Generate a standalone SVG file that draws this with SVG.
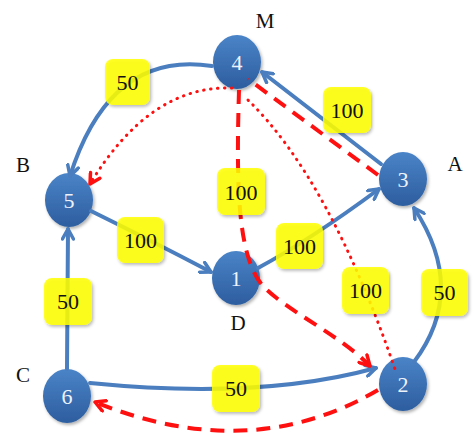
<svg xmlns="http://www.w3.org/2000/svg" width="474" height="433" viewBox="0 0 474 433">
<style>
.node{fill:url(#ng);filter:url(#sh)}
.ntxt{font-family:"Liberation Serif",serif;font-size:22px;fill:#eef3fb;text-anchor:middle}
.lbl{font-family:"Liberation Serif",serif;font-size:21px;fill:#111;text-anchor:middle}
.box{fill:#ffff00;fill-opacity:0.85;filter:url(#sh)}
.btxt{font-family:"Liberation Serif",serif;font-size:22px;fill:#111;text-anchor:middle}
.blue{fill:none;stroke:#4a7ebf;stroke-width:4;stroke-linecap:round}
.dash{fill:none;stroke:#ff1010;stroke-width:4;stroke-dasharray:14 9}
.dot{fill:none;stroke:#ff1010;stroke-width:3;stroke-dasharray:0.5 6.5;stroke-linecap:round}
</style>
<defs>
<linearGradient id="ng" x1="0" y1="0" x2="0" y2="1">
<stop offset="0" stop-color="#4a84c8"/>
<stop offset="1" stop-color="#2d5d9f"/>
</linearGradient>
<filter id="sh" x="-20%" y="-20%" width="150%" height="150%">
<feDropShadow dx="1.5" dy="2" stdDeviation="1.5" flood-color="#000" flood-opacity="0.3"/>
</filter>
<marker id="ab" viewBox="0 0 14 14" refX="12" refY="7" markerWidth="14" markerHeight="14" markerUnits="userSpaceOnUse" orient="auto">
<path d="M2,1.5 L12,7 L2,12.5" fill="none" stroke="#4a7ebf" stroke-width="3.5" stroke-linecap="round" stroke-linejoin="round"/>
</marker>
<marker id="ar" viewBox="0 0 14 14" refX="12" refY="7" markerWidth="14" markerHeight="14" markerUnits="userSpaceOnUse" orient="auto">
<path d="M2,1.5 L12,7 L2,12.5" fill="none" stroke="#ff1010" stroke-width="3.5" stroke-linecap="round" stroke-linejoin="round"/>
</marker>
</defs>
<rect width="474" height="433" fill="#fff"/>
<g id="node-4"><ellipse class="node" cx="237" cy="62" rx="24" ry="27"/><text class="ntxt" x="237" y="70">4</text><text class="lbl" x="265" y="28">M</text></g>
<g id="node-5"><ellipse class="node" cx="69" cy="200" rx="24" ry="27"/><text class="ntxt" x="69" y="208">5</text><text class="lbl" x="23" y="172">B</text></g>
<g id="node-3"><ellipse class="node" cx="403" cy="179" rx="24" ry="27"/><text class="ntxt" x="403" y="187">3</text><text class="lbl" x="455" y="171">A</text></g>
<g id="node-1"><ellipse class="node" cx="236" cy="278" rx="24" ry="27"/><text class="ntxt" x="236" y="286">1</text><text class="lbl" x="238" y="330">D</text></g>
<g id="node-2"><ellipse class="node" cx="403" cy="384" rx="24" ry="27"/><text class="ntxt" x="403" y="392">2</text></g>
<g id="node-6"><ellipse class="node" cx="67" cy="396" rx="24" ry="27"/><text class="ntxt" x="67" y="404">6</text><text class="lbl" x="23" y="382">C</text></g>
<g id="connectors">
<path class="blue" d="M212 66 Q110 50 70 176" marker-end="url(#ab)"/>
<path class="blue" d="M381 164 L262 72" marker-end="url(#ab)"/>
<path class="blue" d="M91 211 Q150 240 211 272" marker-end="url(#ab)"/>
<path class="blue" d="M258 268 Q310 240 379 189" marker-end="url(#ab)"/>
<path class="blue" d="M67 369 L68 229" marker-end="url(#ab)"/>
<path class="blue" d="M90 383 Q260 400 376 368" marker-end="url(#ab)"/>
<path class="blue" d="M414 362 Q468 290 414 208" marker-end="url(#ab)"/>
<path class="dash" d="M378 175 L248 79"/>
<path class="dash" d="M239 90 C236 190 238 255 262 285 C285 310 340 335 370 366" marker-end="url(#ar)"/>
<path class="dash" d="M378 390 Q250 465 95 402" marker-end="url(#ar)"/>
<path class="dot" d="M232 88 Q150 85 90 184" marker-end="url(#ar)"/>
<path class="dot" d="M248 100 Q330 180 396 372"/>
</g>
<g id="labels">
<rect class="box" x="105" y="59" width="45" height="46" rx="8"/><text class="btxt" x="127.5" y="90">50</text>
<rect class="box" x="323" y="87" width="48" height="46" rx="8"/><text class="btxt" x="347" y="118">100</text>
<rect class="box" x="217" y="168" width="48" height="47" rx="8"/><text class="btxt" x="241" y="200">100</text>
<rect class="box" x="117" y="217" width="47" height="46" rx="8"/><text class="btxt" x="140.5" y="248">100</text>
<rect class="box" x="44" y="278" width="48" height="47" rx="8"/><text class="btxt" x="68" y="309">50</text>
<rect class="box" x="276" y="223" width="47" height="46" rx="8"/><text class="btxt" x="299.5" y="254">100</text>
<rect class="box" x="342" y="267" width="47" height="47" rx="8"/><text class="btxt" x="365.5" y="298">100</text>
<rect class="box" x="421" y="269" width="47" height="47" rx="8"/><text class="btxt" x="444.5" y="300">50</text>
<rect class="box" x="212" y="365" width="48" height="47" rx="8"/><text class="btxt" x="236" y="396">50</text>
</g>
</svg>
